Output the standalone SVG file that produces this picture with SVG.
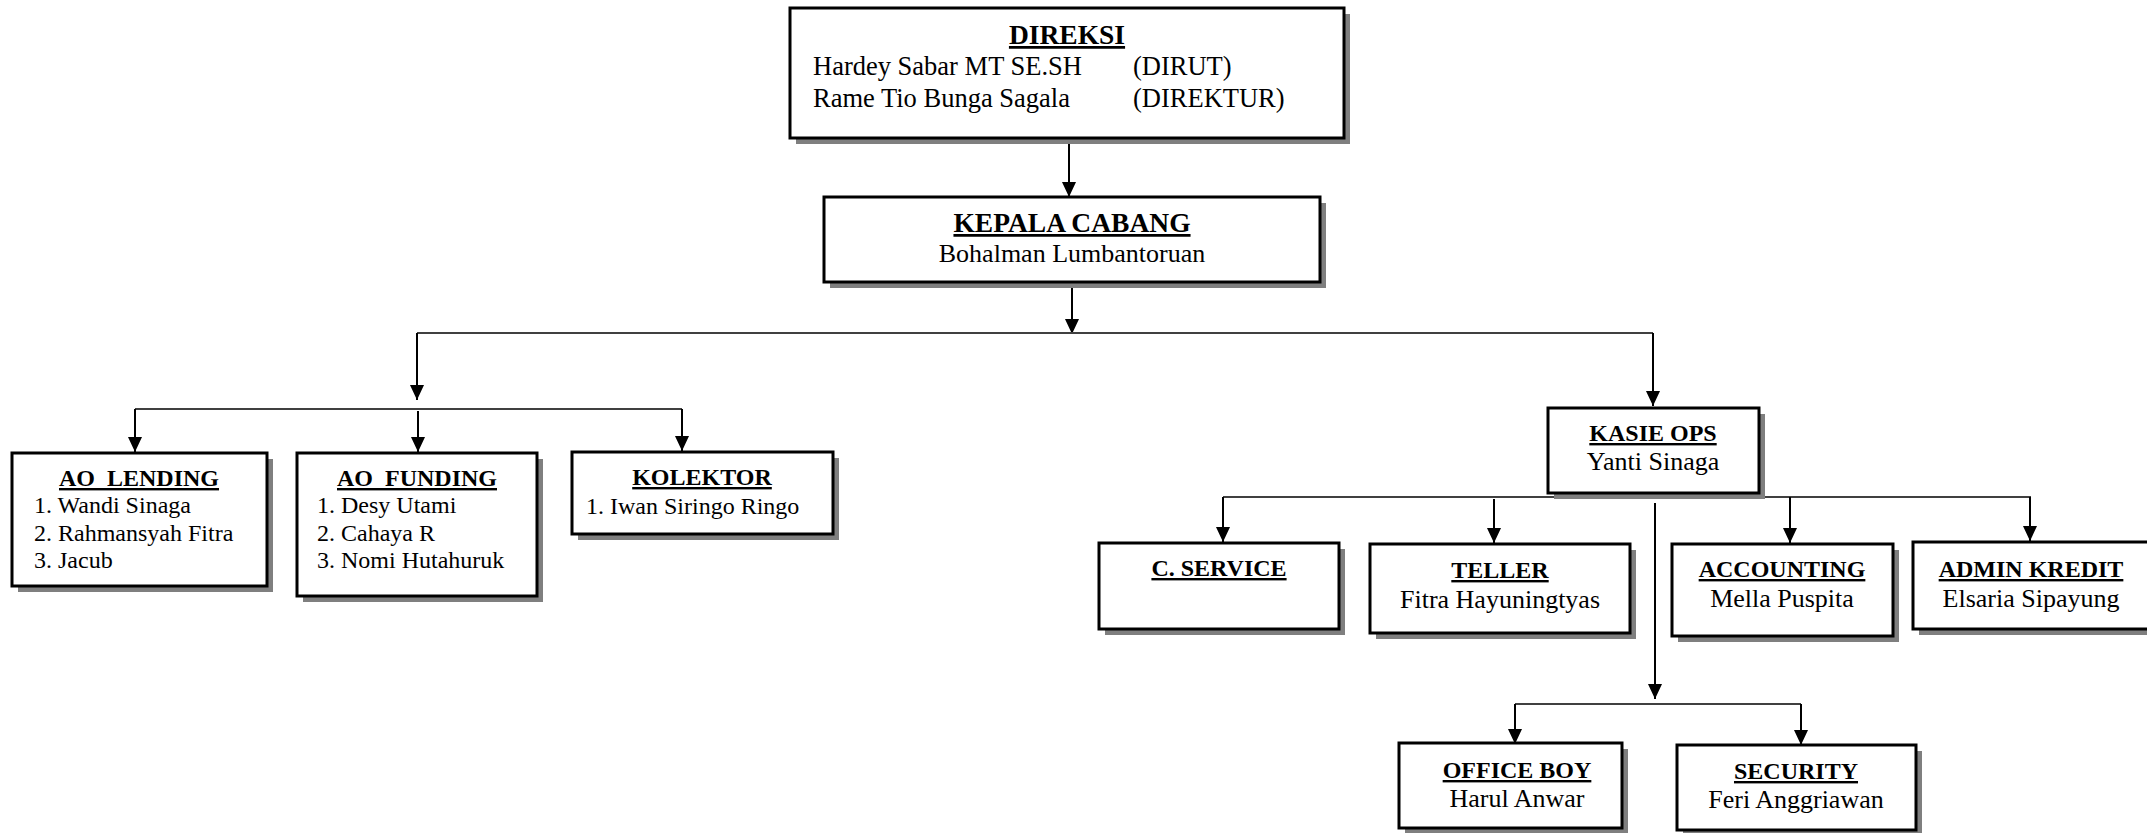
<svg xmlns="http://www.w3.org/2000/svg" width="2147" height="833" viewBox="0 0 2147 833">
<style>
text{font-family:"Liberation Serif","Times New Roman",serif;fill:#000}
.t{font-weight:bold;font-size:24px;text-anchor:middle;text-decoration:underline;white-space:pre}
.tb{font-weight:bold;font-size:27.5px;text-anchor:middle;text-decoration:underline}
.n{font-size:26px;text-anchor:middle}
.d{font-size:26.5px}
.li{font-size:24px}
.sh{fill:#7f7f7f}
.bx{fill:#fff;stroke:#000;stroke-width:3}
.h{stroke:#404040;stroke-width:2;fill:none}
.v{stroke:#000;stroke-width:2;fill:none;marker-end:url(#arr)}
</style>
<defs>
<marker id="arr" markerUnits="userSpaceOnUse" markerWidth="16" markerHeight="14" refX="15" refY="7" orient="auto" viewBox="0 0 16 14">
<path d="M0,0 L15,7 L0,14 z" fill="#000"/>
</marker>
</defs>
<rect width="2147" height="833" fill="#fff"/>
<g id="connectors">
<path class="v" d="M1069,140 V197"/>
<path class="v" d="M1072,284 V334"/>
<path class="h" d="M417,333 H1653"/>
<path class="v" d="M417,333 V400"/>
<path class="v" d="M1653,333 V406"/>
<path class="h" d="M135,409 H682"/>
<path class="v" d="M135,409 V452"/>
<path class="v" d="M418,411 V452"/>
<path class="v" d="M682,409 V451"/>
<path class="h" d="M1223,497 H2031"/>
<path class="v" d="M1223,497 V542"/>
<path class="v" d="M1494,499 V543"/>
<path class="v" d="M1790,497 V543"/>
<path class="v" d="M2030,497 V541"/>
<path class="v" d="M1655,503 V699"/>
<path class="h" d="M1515,704 H1801"/>
<path class="v" d="M1515,704 V744"/>
<path class="v" d="M1801,704 V745"/>
</g>
<g id="direksi">
<rect class="sh" x="796" y="14" width="554" height="130"/>
<rect class="bx" x="790" y="8" width="554" height="130"/>
<text class="tb" x="1067" y="44">DIREKSI</text>
<text class="d" x="813" y="75">Hardey Sabar MT SE.SH</text>
<text class="d" x="1133" y="75">(DIRUT)</text>
<text class="d" x="813" y="107">Rame Tio Bunga Sagala</text>
<text class="d" x="1133" y="107">(DIREKTUR)</text>
</g>
<g id="kepala-cabang">
<rect class="sh" x="830" y="203" width="496" height="85"/>
<rect class="bx" x="824" y="197" width="496" height="85"/>
<text class="tb" x="1072" y="232">KEPALA CABANG</text>
<text class="n" x="1072" y="262">Bohalman Lumbantoruan</text>
</g>
<g id="ao-lending">
<rect class="sh" x="18" y="459" width="255" height="133"/>
<rect class="bx" x="12" y="453" width="255" height="133"/>
<text class="t" x="139" y="486">AO  LENDING</text>
<text class="li" x="34" y="513">1. Wandi Sinaga</text>
<text class="li" x="34" y="541">2. Rahmansyah Fitra</text>
<text class="li" x="34" y="568">3. Jacub</text>
</g>
<g id="ao-funding">
<rect class="sh" x="303" y="459" width="240" height="143"/>
<rect class="bx" x="297" y="453" width="240" height="143"/>
<text class="t" x="417" y="486">AO  FUNDING</text>
<text class="li" x="317" y="513">1. Desy Utami</text>
<text class="li" x="317" y="541">2. Cahaya R</text>
<text class="li" x="317" y="568">3. Nomi Hutahuruk</text>
</g>
<g id="kolektor">
<rect class="sh" x="578" y="458" width="261" height="82"/>
<rect class="bx" x="572" y="452" width="261" height="82"/>
<text class="t" x="702" y="485">KOLEKTOR</text>
<text class="li" x="586" y="514">1. Iwan Siringo Ringo</text>
</g>
<g id="kasie-ops">
<rect class="sh" x="1554" y="414" width="211" height="85"/>
<rect class="bx" x="1548" y="408" width="211" height="85"/>
<text class="t" x="1653" y="441">KASIE OPS</text>
<text class="n" x="1653" y="470">Yanti Sinaga</text>
</g>
<g id="c-service">
<rect class="sh" x="1105" y="549" width="240" height="86"/>
<rect class="bx" x="1099" y="543" width="240" height="86"/>
<text class="t" x="1219" y="576">C. SERVICE</text>
</g>
<g id="teller">
<rect class="sh" x="1376" y="550" width="260" height="89"/>
<rect class="bx" x="1370" y="544" width="260" height="89"/>
<text class="t" x="1500" y="578">TELLER</text>
<text class="n" x="1500" y="608">Fitra Hayuningtyas</text>
</g>
<g id="accounting">
<rect class="sh" x="1678" y="550" width="221" height="92"/>
<rect class="bx" x="1672" y="544" width="221" height="92"/>
<text class="t" x="1782" y="577">ACCOUNTING</text>
<text class="n" x="1782" y="607">Mella Puspita</text>
</g>
<g id="admin-kredit">
<rect class="sh" x="1919" y="548" width="236" height="87"/>
<rect class="bx" x="1913" y="542" width="236" height="87"/>
<text class="t" x="2031" y="577">ADMIN KREDIT</text>
<text class="n" x="2031" y="607">Elsaria Sipayung</text>
</g>
<g id="office-boy">
<rect class="sh" x="1405" y="749" width="223" height="85"/>
<rect class="bx" x="1399" y="743" width="223" height="85"/>
<text class="t" x="1517" y="778">OFFICE BOY</text>
<text class="n" x="1517" y="807">Harul Anwar</text>
</g>
<g id="security">
<rect class="sh" x="1683" y="751" width="239" height="85"/>
<rect class="bx" x="1677" y="745" width="239" height="85"/>
<text class="t" x="1796" y="779">SECURITY</text>
<text class="n" x="1796" y="808">Feri Anggriawan</text>
</g>
</svg>
